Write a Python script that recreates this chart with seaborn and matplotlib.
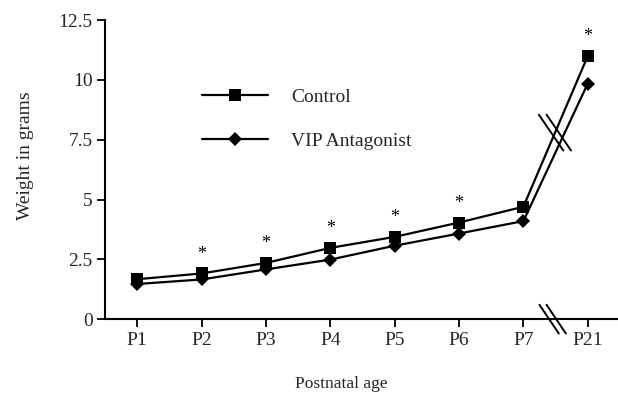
import matplotlib
matplotlib.use("Agg")
import matplotlib.pyplot as plt
import seaborn as sns
import pandas as pd
from matplotlib.lines import Line2D

ages = ["P1", "P2", "P3", "P4", "P5", "P6", "P7", "P21"]
control = [1.67, 1.91, 2.35, 2.98, 3.44, 4.04, 4.70, 11.0]
vip = [1.47, 1.66, 2.08, 2.49, 3.07, 3.58, 4.10, 9.85]
significant = [False, True, True, True, True, True, False, True]
yticks = [0, 2.5, 5, 7.5, 10, 12.5]
ytick_labels = ["0", "2.5", "5", "7.5", "10", "12.5"]

sns.set_theme(style="ticks")
plt.rcParams["font.family"] = ["Liberation Serif", "DejaVu Serif"]

pos = list(range(len(ages)))
df = pd.DataFrame({
    "pos": pos * 2,
    "weight": control + vip,
    "group": ["Control"] * len(ages) + ["VIP Antagonist"] * len(ages),
})

fig = plt.figure(figsize=(6.18, 3.95), dpi=100)
ax = fig.add_axes([0.170, 0.192, 0.830, 0.757])

sns.lineplot(data=df, x="pos", y="weight", hue="group", style="group",
             markers={"Control": "s", "VIP Antagonist": "D"}, dashes=False,
             palette={"Control": "black", "VIP Antagonist": "black"},
             linewidth=1.6, markersize=9, markeredgewidth=0, ax=ax, legend=False)
for ln in ax.lines:
    if ln.get_marker() == "D":
        ln.set_markersize(7)

for i, s in enumerate(significant):
    if s:
        ax.text(pos[i], control[i] + 0.8, "*", ha="center", va="center", fontsize=13, color="black")

ax.set_xlim(-0.5, 7.47)
ax.set_ylim(0, 12.5)
ax.set_xticks(pos)
ax.set_xticklabels(ages, fontsize=14)
ax.set_yticks(yticks)
ax.set_yticklabels(ytick_labels, fontsize=14)
ax.tick_params(axis="both", direction="out", length=6, width=1.3, color="black", pad=3)
for sp in ["top", "right"]:
    ax.spines[sp].set_visible(False)
for sp in ["left", "bottom"]:
    ax.spines[sp].set_linewidth(1.5)
    ax.spines[sp].set_color("black")

ax.set_xlabel("")
ax.set_ylabel("")
fig.text(0.553, 0.028, "Postnatal age", ha="center", va="center", fontsize=12.5)
fig.text(0.041, 0.607, "Weight in grams", ha="center", va="center", rotation=90, fontsize=14)

# break marks on lines
for dx in (0.0, 0.12):
    ax.add_line(Line2D([6.24 + dx, 6.62 + dx], [8.55, 7.05], color="black", lw=1.4, clip_on=False))
# break marks on x axis
for dx in (0.0, 0.11):
    ax.add_line(Line2D([6.25 + dx, 6.55 + dx], [0.6, -0.6], color="black", lw=1.4, clip_on=False))

handles = [
    Line2D([], [], color="black", lw=1.6, marker="s", markersize=9, markeredgewidth=0),
    Line2D([], [], color="black", lw=1.6, marker="D", markersize=7, markeredgewidth=0),
]
ax.legend(handles, ["Control", "VIP Antagonist"], loc="upper left",
          bbox_to_anchor=(0.154, 0.83), frameon=False, fontsize=14,
          handlelength=3.4, handletextpad=1.2, labelspacing=1.35)

fig.savefig("out.png", dpi=100)
